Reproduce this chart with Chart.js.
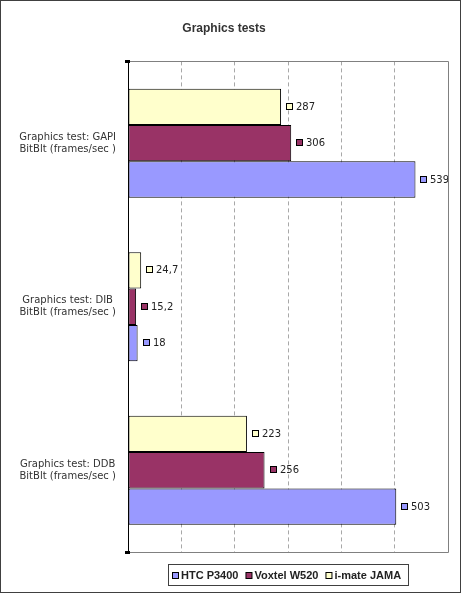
<!DOCTYPE html>
<html><head><meta charset="utf-8">
<script src="https://cdn.jsdelivr.net/npm/chart.js@4/dist/chart.umd.min.js"></script>
<style>html,body{margin:0;padding:0;background:#fff}#wrap{width:462px;height:594px;position:relative}</style>
</head><body><div id="wrap"><canvas id="c" width="462" height="594"></canvas></div>
<script>
const categories = [
  ["Graphics test: GAPI", "BitBlt (frames/sec )"],
  ["Graphics test: DIB", "BitBlt (frames/sec )"],
  ["Graphics test: DDB", "BitBlt (frames/sec )"]
];
const seriesNames = ["i-mate JAMA", "Voxtel W520", "HTC P3400"];
const imateValues = [287, 24.7, 223];
const voxtelValues = [306, 15.2, 256];
const htcValues = [539, 18, 503];
const seriesColors = ["#FFFFCC", "#993366", "#9999FF"];
const xTicks = [0, 100, 200, 300, 400, 500, 600];

const fmt = v => String(v).replace('.', ',');

const extras = {
  id: 'extras',
  afterDatasetsDraw(chart) {
    const ctx = chart.ctx;
    ctx.save();
    ctx.font = '10px "DejaVu Sans"';
    ctx.textBaseline = 'middle';
    chart.data.datasets.forEach((ds, di) => {
      const meta = chart.getDatasetMeta(di);
      meta.data.forEach((bar, i) => {
        const x = Math.round(bar.x) + 5;
        const y = Math.round(bar.y);
        ctx.fillStyle = ds.backgroundColor;
        ctx.fillRect(x + 0.5, y - 3.5, 6, 6);
        ctx.strokeStyle = '#000';
        ctx.lineWidth = 1;
        ctx.strokeRect(x + 0.5, y - 3.5, 6, 6);
        ctx.fillStyle = '#222';
        ctx.textAlign = 'left';
        ctx.fillText(fmt(ds.data[i]), x + 10, y + 0.5);
      });
    });
    ctx.restore();
  },
  afterDraw(chart) {
    const ctx = chart.ctx;
    const a = chart.chartArea;
    ctx.save();
    // plot frame
    ctx.strokeStyle = '#808080';
    ctx.lineWidth = 1;
    ctx.beginPath();
    ctx.moveTo(a.left, Math.round(a.top) + 0.5);
    ctx.lineTo(Math.round(a.right) + 0.5, Math.round(a.top) + 0.5);
    ctx.lineTo(Math.round(a.right) + 0.5, Math.round(a.bottom) + 0.5);
    ctx.lineTo(a.left, Math.round(a.bottom) + 0.5);
    ctx.stroke();
    ctx.strokeStyle = '#000';
    ctx.beginPath();
    ctx.moveTo(Math.round(a.left) + 0.5, Math.round(a.top));
    ctx.lineTo(Math.round(a.left) + 0.5, Math.round(a.bottom) + 1);
    ctx.stroke();
    ctx.fillStyle = '#000';
    ctx.fillRect(Math.round(a.left) - 3, Math.round(a.top) - 1, 5, 3);
    ctx.fillRect(Math.round(a.left) - 3, Math.round(a.bottom) - 1, 5, 3);

    // legend (reverse dataset order), centred under the plot area
    const items = chart.data.datasets.map(ds => ({ text: ds.label, color: ds.backgroundColor })).reverse();
    ctx.font = 'bold 11px "Liberation Sans"';
    const sq = 7, gapSq = 2, gapItem = 7, padL = 4, padR = 7;
    const widths = items.map(it => ctx.measureText(it.text).width);
    let total = padL + padR;
    widths.forEach((w, i) => { total += sq + gapSq + w + (i < items.length - 1 ? gapItem : 0); });
    const cx = (a.left + a.right) / 2;
    let bx = Math.round(cx - total / 2);
    const by = Math.round(a.bottom) + 12, bh = 21;
    ctx.strokeStyle = '#404040';
    ctx.strokeRect(bx + 0.5, by + 0.5, Math.round(total), bh);
    let x = bx + padL;
    const ym = by + bh / 2 + 1;
    ctx.textBaseline = 'middle';
    ctx.textAlign = 'left';
    items.forEach((it, i) => {
      ctx.fillStyle = it.color;
      ctx.fillRect(x + 0.5, Math.round(ym - 4) + 0.5, sq - 1, sq - 1);
      ctx.strokeStyle = '#000';
      ctx.strokeRect(x + 0.5, Math.round(ym - 4) + 0.5, sq - 1, sq - 1);
      x += sq + gapSq;
      ctx.fillStyle = '#222';
      ctx.fillText(it.text, x, ym);
      x += widths[i] + gapItem;
    });

    // outer frame
    ctx.strokeStyle = '#404040';
    ctx.strokeRect(0.5, 0.5, 460, 592);
    ctx.restore();
  }
};

new Chart(document.getElementById('c'), {
  type: 'bar',
  data: {
    labels: categories,
    datasets: [
      { label: seriesNames[0], data: imateValues, backgroundColor: seriesColors[0] },
      { label: seriesNames[1], data: voxtelValues, backgroundColor: seriesColors[1] },
      { label: seriesNames[2], data: htcValues, backgroundColor: seriesColors[2] }
    ]
  },
  options: {
    indexAxis: 'y',
    responsive: false,
    animation: false,
    devicePixelRatio: 1,
    datasets: { bar: { borderColor: '#000', borderWidth: 1, borderSkipped: false, categoryPercentage: 0.667, barPercentage: 1 } },
    layout: { padding: { left: 0, right: 14, top: 0, bottom: 42 } },
    scales: {
      x: {
        min: 0, max: 600,
        afterBuildTicks: s => { s.ticks = xTicks.map(v => ({ value: v })); },
        ticks: { display: false },
        border: { display: false, dash: [4, 3] },
        grid: {
          color: c => (c.tick && (c.tick.value === 0 || c.tick.value === 600)) ? 'rgba(0,0,0,0)' : '#a8a8a8',
          drawTicks: false,
          lineWidth: 1
        },
        afterFit: s => { s.height = 0; }
      },
      y: {
        grid: { display: false },
        border: { display: false },
        ticks: { color: '#333', font: { family: '"DejaVu Sans"', size: 10 }, padding: 4, crossAlign: 'center' },
        afterFit: s => { s.width = 128; }
      }
    },
    plugins: {
      title: {
        display: true,
        text: 'Graphics tests',
        color: '#333',
        font: { family: '"Liberation Sans"', size: 12, weight: 'bold' },
        padding: { top: 21, bottom: 26 }
      },
      legend: { display: false },
      tooltip: { enabled: false }
    }
  },
  plugins: [extras]
});
</script></body></html>
